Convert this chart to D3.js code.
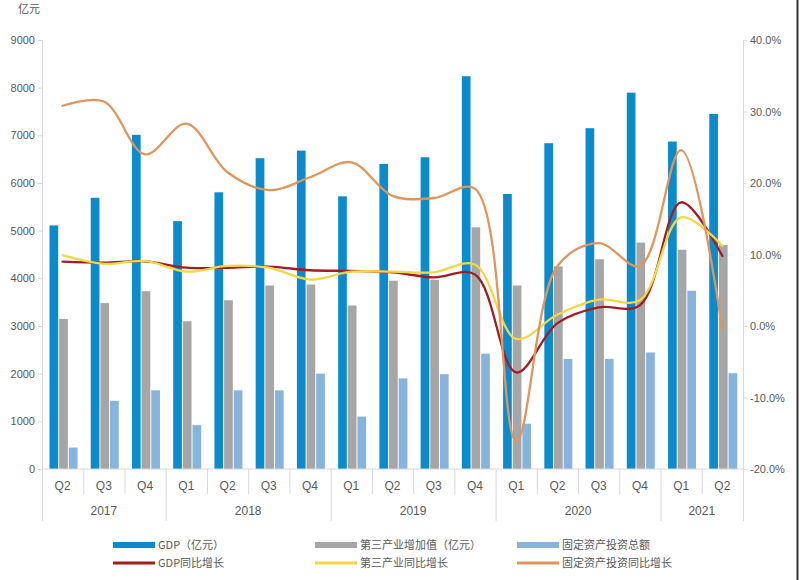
<!DOCTYPE html>
<html>
<head>
<meta charset="utf-8">
<script src="https://cdn.jsdelivr.net/npm/d3@7"></script>
<style>
  html, body { margin: 0; padding: 0; background: #fff; }
  svg { display: block; }
  text { font-family: "Liberation Sans", Arial, "Noto Sans CJK SC", sans-serif; fill: #595959; }
  .cjk { font-family: "Noto Sans CJK SC", "Liberation Sans", sans-serif; }
</style>
</head>
<body>
<svg id="chart" width="800" height="580"></svg>
<script>
// ---------- data ----------
const years = ["2017", "2018", "2019", "2020", "2021"];
const quarters = ["Q2","Q3","Q4","Q1","Q2","Q3","Q4","Q1","Q2","Q3","Q4","Q1","Q2","Q3","Q4","Q1","Q2"];
const quarterYears = ["2017","2017","2017","2018","2018","2018","2018","2019","2019","2019","2019","2020","2020","2020","2020","2021","2021"];

const gdp =       [5110, 5690, 7010, 5200, 5805, 6520, 6680, 5720, 6400, 6540, 8240, 5770, 6835, 7150, 7895, 6870, 7450];
const tertiary =  [3150, 3480, 3730, 3100, 3540, 3850, 3870, 3430, 3950, 3970, 5070, 3850, 4250, 4400, 4750, 4600, 4700];
const fixedAsset =[ 450, 1430, 1650,  920, 1650, 1650, 2000, 1100, 1900, 1990, 2420,  950, 2310, 2310, 2445, 3740, 2010];

const gdpYoY =        [9.0, 8.85, 9.05, 8.15, 8.15, 8.3, 7.8, 7.7, 7.5, 6.8, 7.2, -6.5, 0.4, 2.6, 2.9, 17.3, 9.8];
const tertiaryYoY =   [9.9, 8.7, 9.1, 7.6, 8.4, 8.15, 6.5, 7.6, 7.6, 7.5, 8.6, -1.8, 1.6, 3.7, 3.6, 15.2, 11.2];
const fixedAssetYoY = [30.8, 31.4, 24.0, 28.3, 21.5, 19.0, 20.8, 22.9, 18.2, 17.9, 19.2, -16.1, 8.4, 11.6, 8.4, 24.6, -0.6];

const leftTicks = [0,1000,2000,3000,4000,5000,6000,7000,8000,9000];
const rightTicks = [-20,-10,0,10,20,30,40];

const barSeries = [
  {name: "GDP（亿元）", values: gdp, color: "#0b8bcb"},
  {name: "第三产业增加值（亿元）", values: tertiary, color: "#a6a6a6"},
  {name: "固定资产投资总额", values: fixedAsset, color: "#86b4dc"}
];
const lineSeries = [
  {name: "GDP同比增长", values: gdpYoY, color: "#a21d22"},
  {name: "第三产业同比增长", values: tertiaryYoY, color: "#f6d645"},
  {name: "固定资产投资同比增长", values: fixedAssetYoY, color: "#e0955c"}
];

// ---------- layout ----------
const svg = d3.select("#chart");
const plotLeft = 42, plotRight = 743, plotTop = 40, plotBottom = 469;
const axisColor = "#d9d9d9";
const idx = d3.range(quarters.length);

const x0 = d3.scaleBand().domain(idx).range([plotLeft, plotRight]).padding(0);
const x1 = d3.scaleBand().domain(d3.range(barSeries.length)).range([7.5, 35.5]).paddingInner(0.1);
const yL = d3.scaleLinear().domain([0, 9000]).range([plotBottom, plotTop]);
const yR = d3.scaleLinear().domain([-20, 40]).range([plotBottom, plotTop]);

// bars
barSeries.forEach((s, si) => {
  svg.append("g").selectAll("rect").data(s.values).join("rect")
    .attr("x", (d, i) => x0(i) + x1(si))
    .attr("width", x1.bandwidth())
    .attr("y", d => yL(d))
    .attr("height", d => yL(0) - yL(d))
    .attr("fill", s.color);
});

// left axis
const axL = svg.append("g").attr("transform", `translate(${plotLeft},0)`)
  .call(d3.axisLeft(yL).tickValues(leftTicks).tickFormat(d3.format("d")).tickSize(4).tickSizeOuter(0).tickPadding(3));
axL.select(".domain").attr("stroke", axisColor);
axL.selectAll(".tick line").attr("stroke", axisColor);
axL.selectAll("text").attr("font-size", 11).attr("fill", "#595959");

// right axis
const axR = svg.append("g").attr("transform", `translate(${plotRight},0)`)
  .call(d3.axisRight(yR).tickValues(rightTicks).tickFormat(d => d.toFixed(1) + "%").tickSize(4).tickSizeOuter(0).tickPadding(3));
axR.select(".domain").attr("stroke", axisColor);
axR.selectAll(".tick line").attr("stroke", axisColor);
axR.selectAll("text").attr("font-size", 11).attr("fill", "#595959");

// lines
const line = (vals) => d3.line()
  .x((d, i) => x0(i) + x0.bandwidth() / 2)
  .y(d => yR(d))
  .curve(d3.curveCatmullRom.alpha(0.5))(vals);
lineSeries.forEach(s => {
  svg.append("path").attr("d", line(s.values))
    .attr("fill", "none").attr("stroke", s.color).attr("stroke-width", 2.3)
    .attr("stroke-linecap", "round");
});

// bottom axis (multi-level)
const gx = svg.append("g");
gx.append("line").attr("x1", plotLeft).attr("x2", plotRight).attr("y1", plotBottom).attr("y2", plotBottom).attr("stroke", axisColor);
idx.forEach(i => {
  const xs = x0(i);
  const isYearStart = i === 0 || quarterYears[i] !== quarterYears[i - 1];
  gx.append("line").attr("x1", xs + 0.5).attr("x2", xs + 0.5).attr("y1", plotBottom)
    .attr("y2", isYearStart ? 521 : 494).attr("stroke", axisColor);
  gx.append("text").attr("x", xs + x0.bandwidth() / 2).attr("y", 490)
    .attr("text-anchor", "middle").attr("font-size", 12).text(quarters[i]);
});
gx.append("line").attr("x1", plotRight + 0.5).attr("x2", plotRight + 0.5).attr("y1", plotBottom).attr("y2", 521).attr("stroke", axisColor);
years.forEach(yr => {
  const ii = idx.filter(i => quarterYears[i] === yr);
  const xa = x0(ii[0]), xb = x0(ii[ii.length - 1]) + x0.bandwidth();
  gx.append("text").attr("x", (xa + xb) / 2).attr("y", 515)
    .attr("text-anchor", "middle").attr("font-size", 12).text(yr);
});

// unit label
svg.append("text").attr("class", "cjk").attr("x", 18).attr("y", 13).attr("font-size", 11).text("亿元");

// legend
const legX = [113, 315, 517];
barSeries.forEach((s, i) => {
  svg.append("rect").attr("x", legX[i]).attr("y", 542).attr("width", 42).attr("height", 6).attr("fill", s.color);
  svg.append("text").attr("class", "cjk").attr("x", legX[i] + 45).attr("y", 549).attr("font-size", 11).text(s.name);
});
lineSeries.forEach((s, i) => {
  svg.append("line").attr("x1", legX[i]).attr("x2", legX[i] + 42).attr("y1", 563).attr("y2", 563)
    .attr("stroke", s.color).attr("stroke-width", 3);
  svg.append("text").attr("class", "cjk").attr("x", legX[i] + 45).attr("y", 567).attr("font-size", 11).text(s.name);
});

// right border
svg.append("line").attr("x1", 797.5).attr("x2", 797.5).attr("y1", 0).attr("y2", 580).attr("stroke", "#333").attr("stroke-width", 2);
</script>
</body>
</html>
